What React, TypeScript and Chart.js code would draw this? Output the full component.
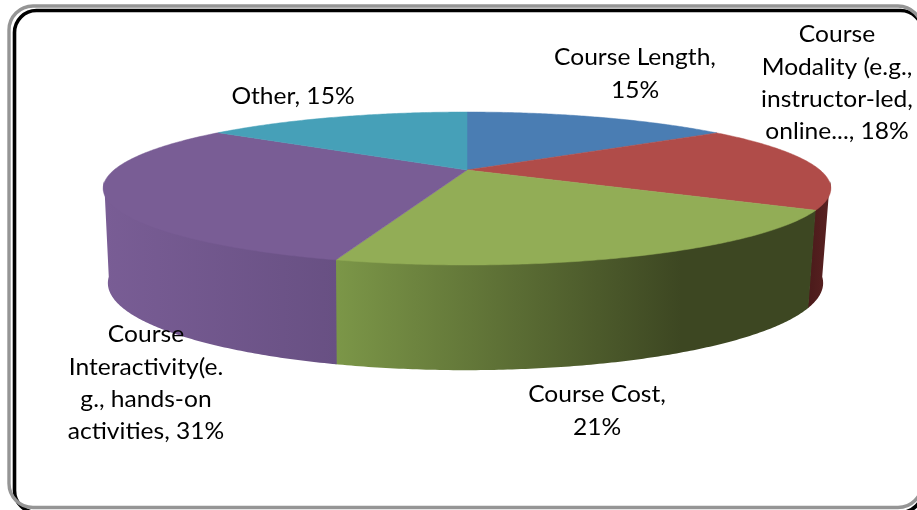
import React, { useEffect, useRef } from "react";
import { Chart, registerables } from "chart.js";

Chart.register(...registerables);

const categories = [
  "Course Length",
  "Course Modality (e.g., instructor-led, online...",
  "Course Cost",
  "Course Interactivity(e.g., hands-on activities",
  "Other",
];
const shares = [15, 18.2, 21.4, 30.5, 14.9];
const topColors = ["#4A7DB3", "#B04C49", "#92AD56", "#795D95", "#46A0B8"];
const wallLeft = ["#3A618C", "#5A2222", "#7C9748", "#795D95", "#367D90"];
const wallRight = ["#3A618C", "#4A1A1A", "#3D4722", "#685083", "#367D90"];
const labelLines = [
  ["Course Length,", "15%"],
  ["Course", "Modality (e.g.,", "instructor-led,", "online..., 18%"],
  ["Course Cost,", "21%"],
  ["Course", "Interactivity(e.", "g., hands-on", "activities, 31%"],
  ["Other, 15%"],
];

// layout of the tilted pie and its captions
const TOP = { cx: 467, cy: 170, rx: 353, ry: 72 };
const BOTTOM = { cx: 465.5, cy: 262, rx: 347, ry: 82 };
const PERSPECTIVE = 0.242;
const WALL_FROM = (100 * Math.PI) / 180 - Math.PI / 2;
const WALL_TO = (260 * Math.PI) / 180 - Math.PI / 2;
const LABEL_X = [635, 837, 597, 146, 293];
const LABEL_Y = [58, 35, 395, 335, 97];
const LINE_H = 32.3;
const TEXT_STRETCH = 1.06;
const FONT = '23.2px Lato, "Open Sans", sans-serif';

type Ring = { cx: number; cy: number; rx: number; ry: number };

function project(r: Ring, a: number): [number, number] {
  const X = Math.cos(a);
  const Y = Math.sin(a);
  const d = 1 - PERSPECTIVE * Y;
  return [r.cx + (r.rx * X) / d, r.cy + (r.ry * Y) / d];
}

function samples(from: number, to: number): number[] {
  const n = Math.max(2, Math.ceil((to - from) / 0.01));
  const out: number[] = [];
  for (let i = 0; i <= n; i++) out.push(from + ((to - from) * i) / n);
  return out;
}

function roundRectPath(
  ctx: CanvasRenderingContext2D,
  x: number,
  y: number,
  w: number,
  h: number,
  r: number
) {
  ctx.beginPath();
  ctx.roundRect(x, y, w, h, r);
}

const pie3d = {
  id: "pie3d",
  beforeDatasetsDraw(chart: Chart) {
    const ctx = chart.ctx;
    const arcs = chart.getDatasetMeta(0).data as any[];

    // frame
    ctx.save();
    ctx.lineWidth = 3.6;
    ctx.strokeStyle = "#000000";
    roundRectPath(ctx, 14.5, 10.5, 908, 502, 22);
    ctx.stroke();
    ctx.lineWidth = 3.4;
    ctx.strokeStyle = "#959595";
    roundRectPath(ctx, 9, 6, 913, 501.5, 24);
    ctx.stroke();
    ctx.restore();

    // side walls
    arcs.forEach((arc, i) => {
      const from = Math.max(arc.startAngle, WALL_FROM);
      const to = Math.min(arc.endAngle, WALL_TO);
      if (to <= from) return;
      const angles = samples(from, Math.min(to + 0.006, WALL_TO));
      const top = angles.map((a) => project(TOP, a));
      const bottom = angles.map((a) => project(BOTTOM, a));
      const xs = top.concat(bottom).map((p) => p[0]);
      const minX = Math.min(...xs);
      const maxX = Math.max(...xs);
      const g = ctx.createLinearGradient(minX, 0, maxX, 0);
      const light = wallLeft[i];
      const dark = wallRight[i];
      if (i === 3) {
        g.addColorStop(0, light);
        g.addColorStop(1, dark);
      } else if (i === 2) {
        g.addColorStop(0, light);
        g.addColorStop(0.72, dark);
        g.addColorStop(1, dark);
      } else {
        g.addColorStop(0, dark);
        g.addColorStop(1, light);
      }
      ctx.beginPath();
      top.forEach((p, k) => (k ? ctx.lineTo(p[0], p[1] - 2) : ctx.moveTo(p[0], p[1] - 2)));
      bottom.reverse().forEach((p) => ctx.lineTo(p[0], p[1]));
      ctx.closePath();
      ctx.fillStyle = g;
      ctx.fill();
    });

    // top face
    arcs.forEach((arc, i) => {
      ctx.beginPath();
      ctx.moveTo(TOP.cx, TOP.cy);
      samples(arc.startAngle, arc.endAngle).forEach((a) => {
        const p = project(TOP, a);
        ctx.lineTo(p[0], p[1]);
      });
      ctx.closePath();
      ctx.fillStyle = topColors[i];
      ctx.strokeStyle = topColors[i];
      ctx.lineWidth = 0.5;
      ctx.fill();
      ctx.stroke();
    });

    // captions
    ctx.font = FONT;
    ctx.fillStyle = "#000000";
    ctx.textAlign = "center";
    ctx.textBaseline = "middle";
    labelLines.forEach((lines, i) => {
      lines.forEach((t, k) => {
        ctx.save();
        ctx.translate(LABEL_X[i], LABEL_Y[i] + k * LINE_H);
        ctx.scale(TEXT_STRETCH, 1);
        ctx.fillText(t, 0, 0);
        ctx.restore();
      });
    });
    return false;
  },
};

export default function App() {
  const ref = useRef<HTMLCanvasElement>(null);
  useEffect(() => {
    if (!ref.current) return;
    const chart = new Chart(ref.current, {
      type: "pie",
      data: {
        labels: categories,
        datasets: [{ data: shares, backgroundColor: topColors, borderWidth: 0 }],
      },
      options: {
        responsive: false,
        animation: false,
        plugins: { legend: { display: false }, tooltip: { enabled: false } },
      },
      plugins: [pie3d as any],
    });
    return () => chart.destroy();
  }, []);
  return (
    <div style={{ position: "absolute", left: 0, top: 0, width: 917, height: 510, background: "#fff", overflow: "hidden" }}>
      <canvas ref={ref} width={917} height={510} style={{ display: "block" }} />
    </div>
  );
}
